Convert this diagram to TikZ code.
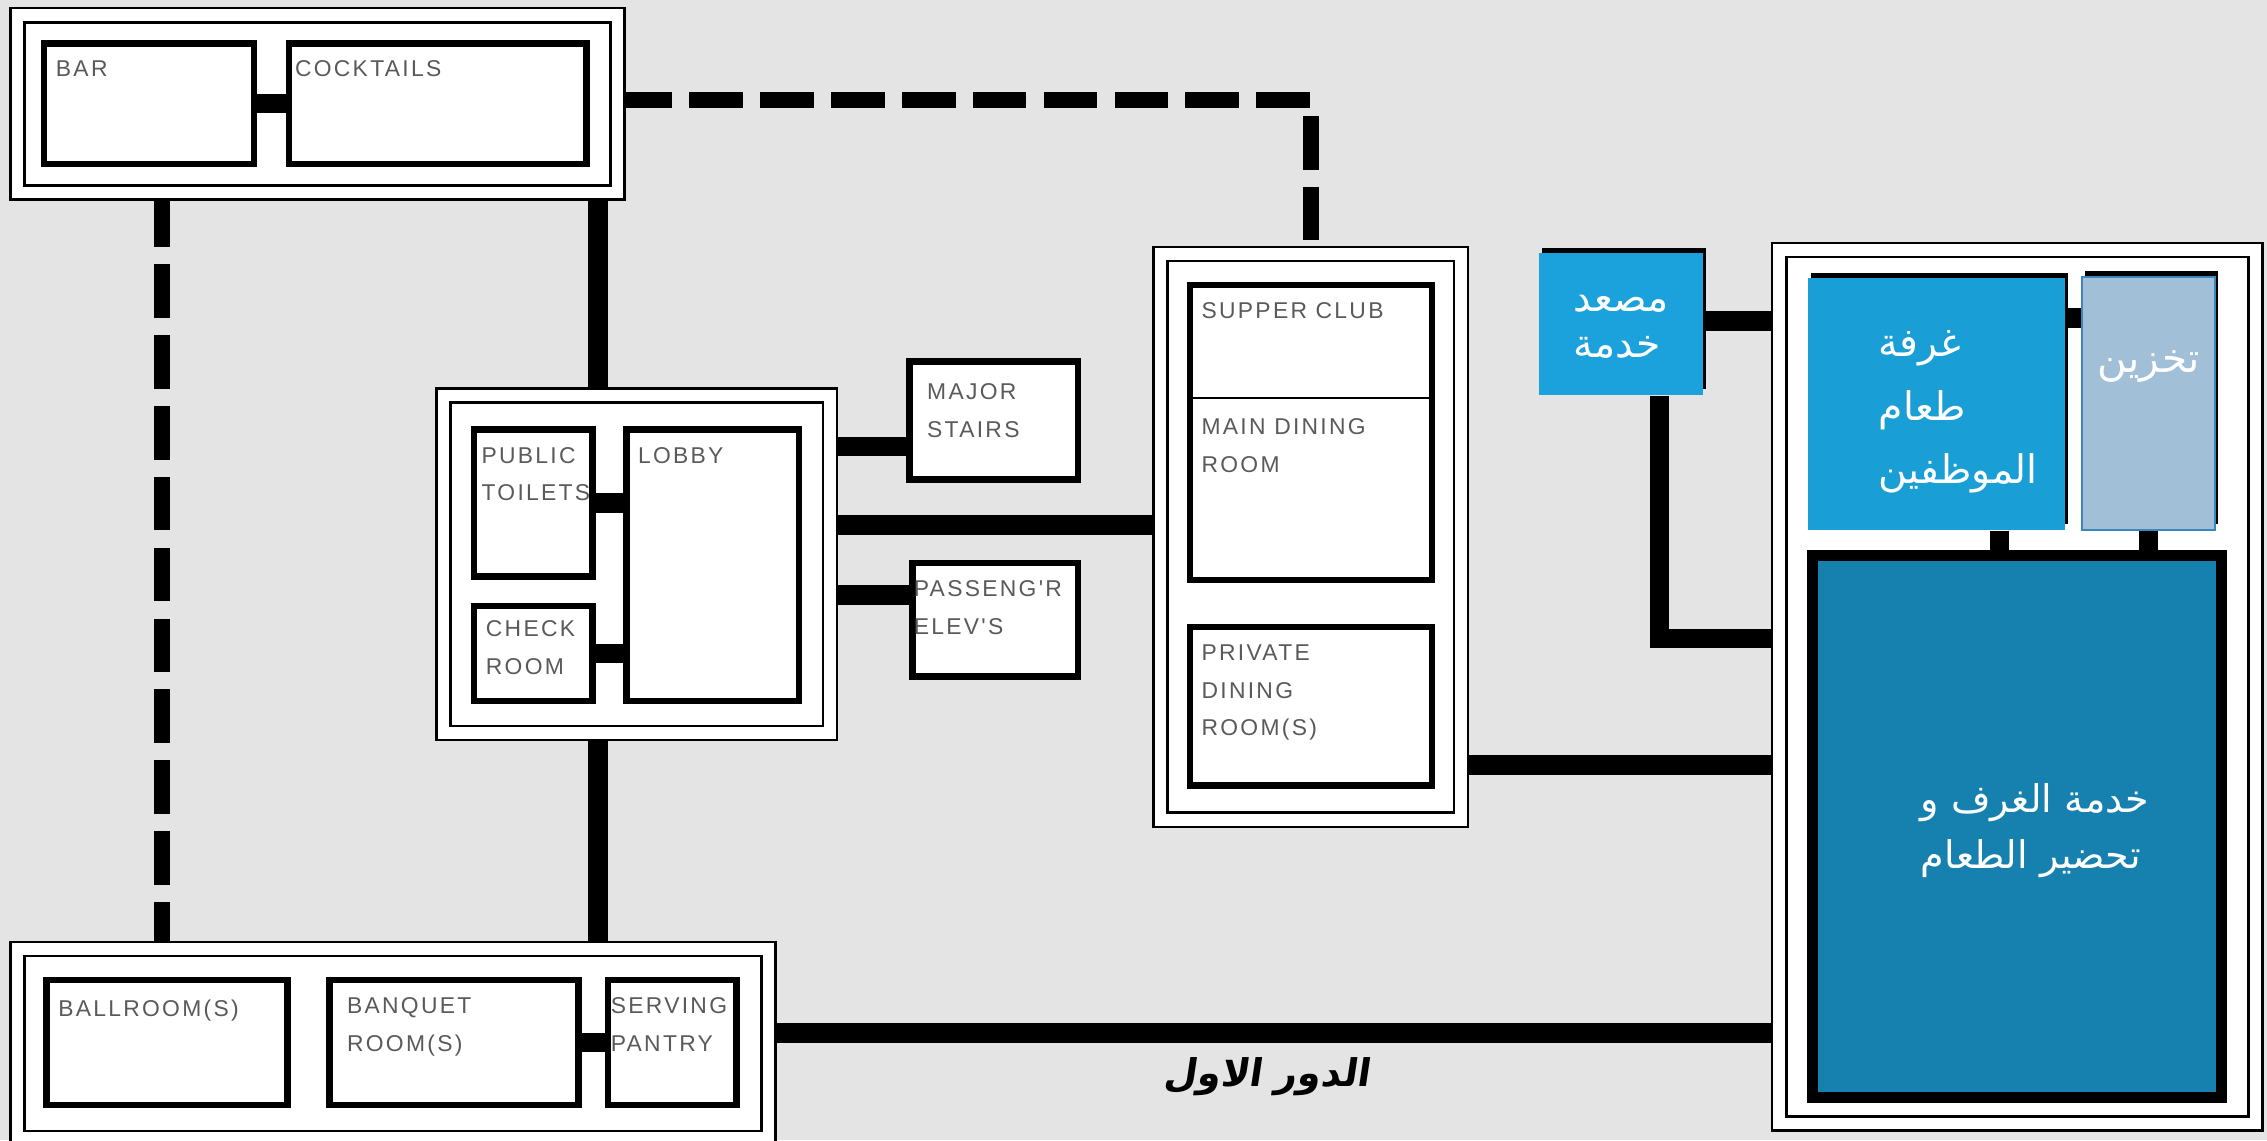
\documentclass[tikz,border=0pt]{standalone}
\usepackage{fontspec}
\setmainfont{Liberation Sans}
\newfontfamily\roomfont[LetterSpace=10]{Liberation Sans}
\newfontfamily\arabicfont[Script=Arabic]{DejaVu Sans}
\newfontfamily\floorfont[Script=Arabic,FakeSlant=0.15]{DejaVu Sans Bold}
\TeXXeTstate=1
\usetikzlibrary{positioning,fit,shadows,calc}
\definecolor{paper}{HTML}{E4E4E4}
\definecolor{inkgray}{HTML}{5A5A5A}
\definecolor{liftblue}{HTML}{1BA1DC}
\definecolor{staffblue}{HTML}{1A9ED6}
\definecolor{storeblue}{HTML}{A1BFD6}
\definecolor{storeedge}{HTML}{3A88B9}
\definecolor{kitchenblue}{HTML}{1681AF}
\pgfdeclarelayer{background}
\pgfsetlayers{background,main}
\tikzset{wing/.style={rectangle, draw=black, line width=0.35mm,
    double=white, double distance=1.6mm, fill=white, inner sep=0pt},
  room/.style={rectangle, draw=black, line width=0.9mm, fill=white, inner sep=0pt},
  tag/.style={anchor=north west, inner sep=0pt, align=left, text=inkgray,
    font=\roomfont\fontsize{9}{14.8}\selectfont, xshift=2mm, yshift=-2.8mm},
  patch/.style={rectangle, inner sep=0pt, general shadow={fill=black,
    shadow xshift=0.4mm, shadow yshift=0.8mm}},
  arabtext/.style={text=white, align=left, inner sep=0pt},
  link/.style={-, line width=2.7mm},
  dashlink/.style={-, line width=2.2mm, dash pattern=on 7.4mm off 2.4mm},
  split/.style={-, line width=0.35mm}
}

\begin{document}
\begin{tikzpicture}[x=0.2mm, y=-0.2mm]
   \useasboundingbox (0,0) rectangle (1568,788.5);

   %Wing frames
   \node (Node-TopWing) [wing, fit={(12,10.5) (427,133)}] {};
   \node (Node-LobbyWing) [wing, fit={(306.6,273.4) (574,507)}] {};
   \node (Node-DiningWing) [wing, fit={(802.6,175.6) (1010.5,567)}] {};
   \node (Node-KitchenWing) [wing, fit={(1230.6,173) (1560,777)}] {};
   \node (Node-BottomWing) [wing, fit={(12,656.3) (531.4,787)}] {};

   %Bar and cocktails nodes
   \node (Node-Bar) [room, fit={(30.6,30) (175.6,113.3)},
   label={[tag]north west:BAR}] {};
   \node (Node-Cocktails) [room, fit={(200,30) (405.8,113.3)},
   label={[tag, xshift=-0.8mm]north west:COCKTAILS}] {};

   %Lobby nodes
   \node (Node-Toilets) [room, fit={(328,297.2) (409.8,398.8)},
   label={[tag, xshift=-0.6mm]north west:PUBLIC\\TOILETS}] {};
   \node (Node-Check) [room, fit={(328,419.2) (409.8,484.8)},
   label={[tag, yshift=0.4mm]north west:CHECK\\ROOM}] {};
   \node (Node-Lobby) [room, fit={(433.2,297.2) (552.5,484.8)},
   label={[tag]north west:LOBBY}] {};
   \node (Node-Stairs) [room, fit={(629.2,250.2) (745.5,331.8)},
   label={[tag, xshift=0.8mm, yshift=-0.6mm]north west:MAJOR\\STAIRS}] {};
   \node (Node-Elevs) [room, fit={(631,389.5) (745.5,467.8)},
   label={[tag, xshift=-1.4mm]north west:PASSENG'R\\ELEV'S}] {};

   %Dining nodes
   \node (Node-Dining) [room, fit={(823,197.2) (990.3,401)},
   label={[tag]north west:SUPPER CLUB},
   label={[tag, yshift=-16.1mm]north west:MAIN DINING\\ROOM}] {};
   \node (Node-Private) [room, fit={(823,433.8) (990.3,543.3)},
   label={[tag]north west:PRIVATE\\DINING\\ROOM(S)}] {};

   %Ballroom nodes
   \node (Node-Ballroom) [room, fit={(32.2,677.8) (198.8,764.3)},
   label={[tag, yshift=-0.4mm]north west:BALLROOM(S)}] {};
   \node (Node-Banquet) [room, fit={(228,677.8) (400,764.3)},
   label={[tag, xshift=0.8mm]north west:BANQUET\\ROOM(S)}] {};
   \node (Node-Pantry) [room, fit={(420.4,677.8) (509.5,764.3)},
   label={[tag, xshift=-1.2mm]north west:SERVING\\PANTRY}] {};

   %Service nodes
   \node (Node-Lift) [patch, fill=liftblue, fit={(1064.5,175.2) (1178,273.2)},
   label={[arabtext, font=\arabicfont\fontsize{15.5}{18}\selectfont, yshift=-0.4mm]center:\beginR مصعد\endR\\\beginR خدمة\endR}] {};
   \node (Node-Staff) [patch, fill=staffblue, fit={(1250.6,192.5) (1428.3,366.6)},
   label={[arabtext, font=\arabicfont\fontsize{15.5}{25}\selectfont, xshift=3mm, yshift=-1.1mm]center:\beginR غرفة\endR\\\beginR طعام\endR\\\beginR الموظفين\endR}] {};
   \node (Node-Storage) [patch, fill=storeblue, draw=storeedge, line width=0.3mm,
   fit={(1440,191.4) (1532,366.6)},
   label={[arabtext, font=\arabicfont\fontsize{16}{20}\selectfont, yshift=5.1mm]center:\beginR تخزين\endR}] {};
   \node (Node-Kitchen) [room, fill=kitchenblue, line width=1.5mm,
   fit={(1253.7,384.2) (1536.3,759.3)},
   label={[arabtext, font=\arabicfont\fontsize{15}{22}\selectfont, xshift=2.5mm, yshift=-0.5mm]center:\beginR خدمة الغرف و\endR\\\beginR تحضير الطعام\endR}] {};

   %Floor title
   \node (Node-Floor) [font=\floorfont\fontsize{15}{18}\selectfont] at (876,745)
   {\beginR الدور الاول\endR};

   %Links inside the wings
   \draw[link] (Node-Bar.east) -- (Node-Cocktails.west);
   \draw[link] (Node-Toilets.east) -- (Node-Lobby.west |- Node-Toilets.east);
   \draw[link] (Node-Check.east) -- (Node-Lobby.west |- Node-Check.east);
   \draw[link] (Node-Banquet.east) -- (Node-Pantry.west);
   \draw[split] (Node-Dining.west |- 0,275.4) -- (Node-Dining.east |- 0,275.4);
   \draw[link] (Node-Staff.east |- 0,220) -- (Node-Storage.west |- 0,220);
   \draw[link] (Node-Staff.south -| 1383,0) -- (Node-Kitchen.north -| 1383,0);
   \draw[link] (Node-Storage.south) -- (Node-Storage.south |- Node-Kitchen.north);

   %Links between the wings
   \begin{pgfonlayer}{background}
      \fill[paper] (0,0) rectangle (1568,788.5);
      \draw[dashlink] (Node-TopWing.east |- 0,69) -| (Node-DiningWing.north);
      \draw[dashlink] (Node-TopWing.south -| 112,0) -- (Node-BottomWing.north -| 112,0);
      \draw[link] (Node-TopWing.south -| 413.7,0) -- (Node-LobbyWing.north -| 413.7,0);
      \draw[link] (Node-LobbyWing.south -| 413.7,0) -- (Node-BottomWing.north -| 413.7,0);
      \draw[link] (Node-LobbyWing.east |- 0,308.8) -- (Node-Stairs.west |- 0,308.8);
      \draw[link] (Node-LobbyWing.east |- 0,363) -- (Node-DiningWing.west |- 0,363);
      \draw[link] (Node-LobbyWing.east |- 0,411.5) -- (Node-Elevs.west |- 0,411.5);
      \draw[link] (Node-DiningWing.east |- 0,529) -- (Node-KitchenWing.west |- 0,529);
      \draw[link] (Node-Lift.east |- 0,222) -- (Node-KitchenWing.west |- 0,222);
      \draw[link] (Node-Lift.south -| 1147.7,0) |- (Node-KitchenWing.west |- 0,441.5);
      \draw[link] (Node-BottomWing.east |- 0,714.6) -- (Node-KitchenWing.west |- 0,714.6);
   \end{pgfonlayer}

\end{tikzpicture}
\end{document}
